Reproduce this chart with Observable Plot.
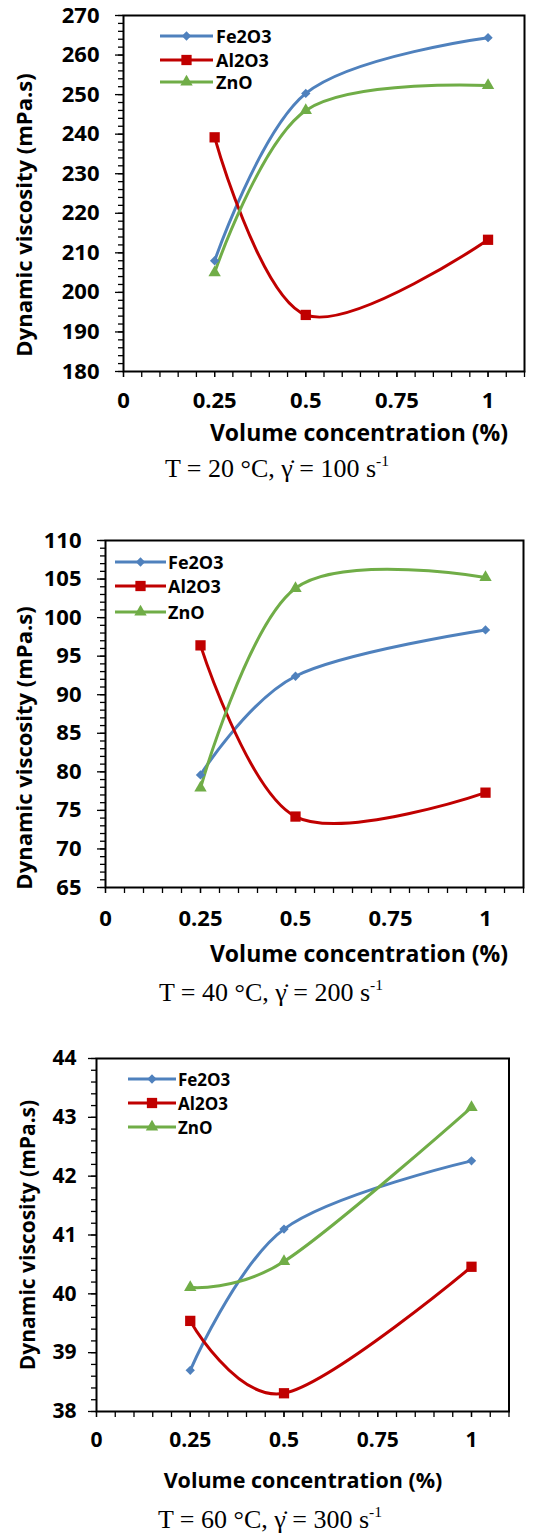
<!DOCTYPE html>
<html>
<head>
<meta charset="utf-8">
<script src="https://cdn.jsdelivr.net/npm/d3@7"></script>
<script src="https://cdn.jsdelivr.net/npm/@observablehq/plot@0.6"></script>
<style>
  html, body { margin: 0; padding: 0; background: #fff; }
  #root { position: relative; width: 534px; height: 1537px; background: #fff; overflow: hidden; }
  .panel { position: absolute; left: 0; }
  .ytitle, .xtitle { position: absolute; font-family: "Open Sans", sans-serif; font-weight: 700; white-space: nowrap; color: #000; line-height: 1; }
  .ytitle { transform: translate(-50%, -50%) rotate(-90deg); }
  .xtitle { transform: translate(-50%, -50%); }
  .caption { position: absolute; font-family: "Liberation Serif", "Times New Roman", serif; white-space: nowrap; color: #000; transform: translate(-50%, -50%); line-height: 1.1; }
  .caption sup { font-size: 0.6em; vertical-align: 0.7em; line-height: 0; }
  .legend { position: absolute; font-family: "Open Sans", sans-serif; font-weight: 700; color: #000; white-space: nowrap; line-height: 1; }
</style>
</head>
<body>
<div id="root"></div>
<script>
// ---------- data ----------
const concentrations = [0.25, 0.5, 1];
const seriesNames = ["Fe2O3", "Al2O3", "ZnO"];
const seriesColors = ["#4F81BD", "#C00000", "#70AD47"];
const seriesSymbols = ["diamond2", "square", "triangle"];
const seriesRadius = [4.2, 5.8, 4.6];

const fe2o3_20 = [208.0, 250.3, 264.4];
const al2o3_20 = [239.2, 194.3, 213.3];
const zno_20   = [205.0, 246.0, 252.3];

const fe2o3_40 = [79.6, 92.4, 98.4];
const al2o3_40 = [96.4, 74.2, 77.3];
const zno_40   = [77.9, 103.8, 105.2];

const fe2o3_60 = [38.70, 41.10, 42.26];
const al2o3_60 = [39.54, 38.31, 40.46];
const zno_60   = [40.11, 40.55, 43.17];

const xMajorTicks = [0, 0.25, 0.5, 0.75, 1];
const xMinorTicks = d3.range(0, 23).map(i => +(i * 0.05).toFixed(2));

const yTicks20 = [180, 190, 200, 210, 220, 230, 240, 250, 260, 270];
const yTicks40 = [65, 70, 75, 80, 85, 90, 95, 100, 105, 110];
const yTicks60 = [38, 39, 40, 41, 42, 43, 44];
const yMinor20 = d3.range(0, 46).map(i => 180 + i * 2);
const yMinor40 = d3.range(0, 46).map(i => 65 + i);
const yMinor60 = d3.range(0, 31).map(i => +(38 + i * 0.2).toFixed(1));

const captions = [
  {T: "20", rate: "100"},
  {T: "40", rate: "200"},
  {T: "60", rate: "300"}
];
const xTitle = "Volume concentration (%)";
const yTitle = "Dynamic viscosity (mPa.s)";

// ---------- layout ----------
const panels = [
  {values: [fe2o3_20, al2o3_20, zno_20], yDomain: [180, 270], yTicks: yTicks20, yMinor: yMinor20,
   top: 0, height: 420, mt: 15, mb: 49, ml: 123, mr: 10, fs: 22, ypad: 16, xpad: 15,
   yt: {x: 23, y: 215, fs: 22}, xt: {x: 359, y: 432, fs: 23}, cap: {x: 277, y: 469, fs: 26},
   leg: {x1: 160, x2: 213, tx: 216, ys: [36, 59.5, 82], fs: 18}},
  {values: [fe2o3_40, al2o3_40, zno_40], yDomain: [65, 110], yTicks: yTicks40, yMinor: yMinor40,
   top: 500, height: 440, mt: 40, mb: 53, ml: 105, mr: 11, fs: 22, ypad: 16, xpad: 17,
   yt: {x: 22.5, y: 748, fs: 22}, xt: {x: 359, y: 953, fs: 23}, cap: {x: 271, y: 993, fs: 26},
   leg: {x1: 115, x2: 166, tx: 168, ys: [561.7, 586, 611.7], fs: 18}},
  {values: [fe2o3_60, al2o3_60, zno_60], yDomain: [38, 44], yTicks: yTicks60, yMinor: yMinor60,
   top: 1020, height: 440, mt: 38, mb: 49, ml: 96, mr: 25.5, fs: 21, ypad: 12, xpad: 15,
   yt: {x: 27, y: 1235, fs: 21}, xt: {x: 303, y: 1480, fs: 21.5}, cap: {x: 270, y: 1520, fs: 26},
   leg: {x1: 128, x2: 176, tx: 178, ys: [1079.3, 1103, 1127], fs: 17}}
];

const root = document.getElementById("root");

function fmt(d) { return String(d); }

panels.forEach((p, pi) => {
  const rows = [];
  seriesNames.forEach((s, si) => {
    concentrations.forEach((c, ci) => rows.push({series: s, c, v: p.values[si][ci]}));
  });

  const dotMarks = seriesNames.map((s, si) =>
    Plot.dot(rows.filter(d => d.series === s), {
      x: "c", y: "v", symbol: () => seriesSymbols[si], fill: seriesColors[si], stroke: "none", r: seriesRadius[si]
    })
  );

  const textOpts = {fontSize: p.fs, fontWeight: 700, fontFamily: "'Open Sans', sans-serif", fill: "#000"};

  const chart = Plot.plot({
    width: 534,
    height: p.height,
    marginTop: p.mt, marginBottom: p.mb, marginLeft: p.ml, marginRight: p.mr,
    x: {domain: [0, 1.1], label: null},
    y: {domain: p.yDomain, label: null},
    symbol: {type: "identity"},
    style: {fontFamily: "'Open Sans', sans-serif", fontWeight: 700, fontSize: p.fs + "px", color: "#000", background: "transparent", overflow: "visible"},
    marks: [
      Plot.axisY({ticks: p.yMinor, tickSize: 5, tickFormat: () => "", label: null, stroke: "#000", strokeWidth: 1.3}),
      Plot.axisY({ticks: p.yTicks, tickSize: 8, tickPadding: p.ypad, tickFormat: fmt, label: null, stroke: "#000", strokeWidth: 1.3, ...textOpts}),
      Plot.axisX({ticks: xMinorTicks, tickSize: 6, tickFormat: () => "", label: null, stroke: "#000", strokeWidth: 1.3}),
      Plot.axisX({ticks: xMajorTicks, tickSize: 6, tickPadding: p.xpad, tickFormat: fmt, label: null, stroke: "#000", strokeWidth: 1.3, ...textOpts}),
      Plot.frame({stroke: "#000", strokeWidth: 2}),
      ...seriesNames.map((s, si) =>
        Plot.line(rows.filter(d => d.series === s), {x: "c", y: "v", stroke: seriesColors[si], strokeWidth: 3, curve: "cardinal"})
      ),
      ...dotMarks
    ]
  });
  chart.classList.add("panel");
  chart.style.top = p.top + "px";
  chart.style.position = "absolute";
  root.appendChild(chart);

  // y title
  const yt = document.createElement("div");
  yt.className = "ytitle";
  yt.textContent = yTitle;
  yt.style.left = p.yt.x + "px";
  yt.style.top = p.yt.y + "px";
  yt.style.fontSize = p.yt.fs + "px";
  root.appendChild(yt);

  // x title
  const xt = document.createElement("div");
  xt.className = "xtitle";
  xt.textContent = xTitle;
  xt.style.left = p.xt.x + "px";
  xt.style.top = p.xt.y + "px";
  xt.style.fontSize = p.xt.fs + "px";
  root.appendChild(xt);

  // caption
  const cap = document.createElement("div");
  cap.className = "caption";
  cap.innerHTML = "T = " + captions[pi].T + " °C, γ̇ = " + captions[pi].rate + " s<sup>-1</sup>";
  cap.style.left = p.cap.x + "px";
  cap.style.top = p.cap.y + "px";
  cap.style.fontSize = p.cap.fs + "px";
  root.appendChild(cap);

  // legend (inside plot area, top-left)
  const ns = "http://www.w3.org/2000/svg";
  seriesNames.forEach((s, si) => {
    const y = p.leg.ys[si];
    const svg = document.createElementNS(ns, "svg");
    svg.setAttribute("width", p.leg.x2 - p.leg.x1 + 4);
    svg.setAttribute("height", 16);
    svg.style.position = "absolute";
    svg.style.left = (p.leg.x1 - 2) + "px";
    svg.style.top = (y - 8) + "px";
    const line = document.createElementNS(ns, "line");
    line.setAttribute("x1", 2); line.setAttribute("x2", p.leg.x2 - p.leg.x1 + 2);
    line.setAttribute("y1", 8); line.setAttribute("y2", 8);
    line.setAttribute("stroke", seriesColors[si]); line.setAttribute("stroke-width", 3);
    svg.appendChild(line);
    const sym = {diamond2: d3.symbolDiamond2, square: d3.symbolSquare, triangle: d3.symbolTriangle}[seriesSymbols[si]];
    const path = document.createElementNS(ns, "path");
    path.setAttribute("d", d3.symbol(sym, Math.PI * seriesRadius[si] * seriesRadius[si])());
    path.setAttribute("transform", `translate(${(p.leg.x2 - p.leg.x1) / 2 + 2},8)`);
    path.setAttribute("fill", seriesColors[si]);
    svg.appendChild(path);
    root.appendChild(svg);

    const t = document.createElement("div");
    t.className = "legend";
    t.textContent = s;
    t.style.left = p.leg.tx + "px";
    t.style.top = y + "px";
    t.style.fontSize = p.leg.fs + "px";
    t.style.transform = "translateY(-50%)";
    root.appendChild(t);
  });
});
</script>
</body>
</html>
